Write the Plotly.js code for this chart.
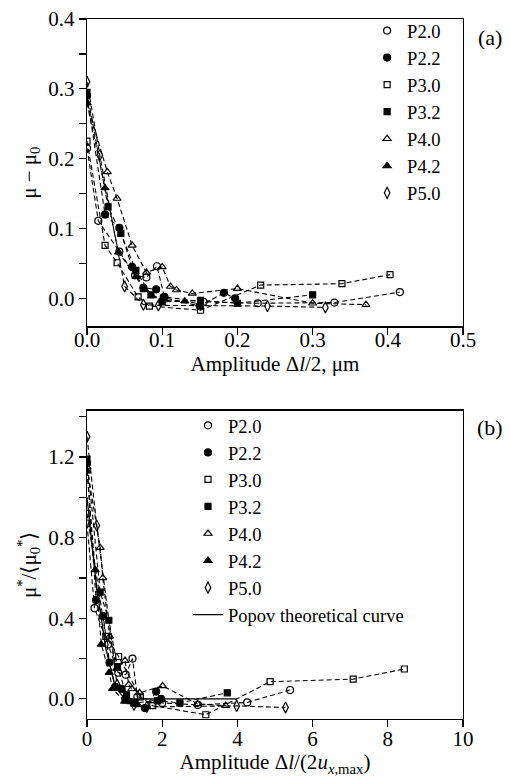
<!DOCTYPE html>
<html><head><meta charset="utf-8">
<script src="https://cdn.plot.ly/plotly-3.0.1.min.js"></script>
<style>html,body{margin:0;padding:0;background:#fff}</style>
</head><body><div id="chart" style="width:510px;height:782px"></div>
<script>
// Panel (a): mu - mu0 vs amplitude (um)
const seriesNames = ['P2.0','P2.2','P3.0','P3.2','P4.0','P4.2','P5.0'];
const a_P20_x = [0, 0.015, 0.043, 0.064, 0.079, 0.093, 0.103, 0.155, 0.227, 0.329, 0.416];
const a_P20_y = [0.215, 0.111, 0.067, 0.033, 0.030, 0.046, 0.002, -0.005, -0.007, -0.006, 0.009];
const a_P22_x = [0, 0.024, 0.043, 0.060, 0.075, 0.092, 0.102, 0.150, 0.182, 0.197];
const a_P22_y = [0.290, 0.120, 0.101, 0.045, 0.015, 0.013, 0.001, -0.011, 0.008, 0.000];
const a_P30_x = [0, 0.024, 0.040, 0.068, 0.083, 0.151, 0.231, 0.339, 0.403];
const a_P30_y = [0.225, 0.076, 0.051, 0.002, -0.011, -0.017, 0.019, 0.021, 0.034];
const a_P32_x = [0, 0.028, 0.045, 0.065, 0.085, 0.100, 0.151, 0.200, 0.300];
const a_P32_y = [0.295, 0.131, 0.093, 0.040, 0.005, -0.005, -0.003, -0.007, 0.005];
const a_P40_x = [0, 0.027, 0.040, 0.060, 0.079, 0.100, 0.111, 0.119, 0.140, 0.200, 0.300, 0.371];
const a_P40_y = [0.280, 0.181, 0.143, 0.076, 0.037, 0.045, 0.017, 0.012, 0.007, 0.014, -0.007, -0.009];
const a_P42_x = [0, 0.024, 0.042, 0.065, 0.076, 0.100, 0.130, 0.150];
const a_P42_y = [0.280, 0.158, 0.066, 0.031, 0.012, -0.003, -0.004, -0.008];
const a_P50_x = [0, 0.017, 0.050, 0.075, 0.095, 0.240, 0.317];
const a_P50_y = [0.310, 0.205, 0.017, -0.009, -0.010, -0.011, -0.013];

// Panel (b): normalized friction vs normalized amplitude
const b_P20_x = [0, 0.20, 0.56, 0.83, 1.03, 1.21, 1.34, 2.00, 2.95, 4.26, 5.40];
const b_P20_y = [0.87, 0.45, 0.27, 0.13, 0.12, 0.20, 0.01, -0.02, -0.03, -0.018, 0.044];
const b_P22_x = [0, 0.24, 0.43, 0.60, 0.75, 0.92, 1.02, 1.54, 1.84, 1.97];
const b_P22_y = [1.17, 0.49, 0.41, 0.18, 0.06, 0.05, 0.00, -0.046, 0.036, 0.00];
const b_P30_x = [0, 0.50, 0.84, 1.42, 1.75, 3.16, 4.87, 7.08, 8.44];
const b_P30_y = [0.92, 0.31, 0.21, 0.01, -0.034, -0.079, 0.085, 0.098, 0.148];
const b_P32_x = [0, 0.35, 0.58, 0.81, 1.05, 1.24, 1.87, 2.47, 3.73];
const b_P32_y = [1.19, 0.53, 0.39, 0.16, 0.02, -0.02, -0.01, -0.02, 0.03];
const b_P40_x = [0, 0.35, 0.42, 0.60, 0.79, 1.01, 1.11, 1.19, 1.40, 2.01, 2.94, 3.69];
const b_P40_y = [1.15, 0.75, 0.60, 0.31, 0.15, 0.19, 0.07, 0.05, 0.03, 0.064, -0.025, -0.034];
const b_P42_x = [0, 0.22, 0.38, 0.59, 0.68, 1.00, 1.17, 1.35];
const b_P42_y = [1.13, 0.64, 0.27, 0.13, 0.05, -0.013, -0.015, -0.03];
const b_P50_x = [0, 0.26, 0.80, 1.25, 1.59, 3.98, 5.28];
const b_P50_y = [1.30, 0.86, 0.07, -0.03, -0.04, -0.035, -0.043];
const popov_x = [0, 0.25, 0.50, 0.75, 1.00, 4.00];
const popov_y = [1.00, 0.56, 0.25, 0.06, 0.00, 0.00];

const symbols = ['circle-open','circle','square-open','square','triangle-up-open','triangle-up','diamond-tall-open'];
const sizes = [7, 7, 6, 6, 7, 7, 8];
const aX = [a_P20_x,a_P22_x,a_P30_x,a_P32_x,a_P40_x,a_P42_x,a_P50_x];
const aY = [a_P20_y,a_P22_y,a_P30_y,a_P32_y,a_P40_y,a_P42_y,a_P50_y];
const bX = [b_P20_x,b_P22_x,b_P30_x,b_P32_x,b_P40_x,b_P42_x,b_P50_x];
const bY = [b_P20_y,b_P22_y,b_P30_y,b_P32_y,b_P40_y,b_P42_y,b_P50_y];

const FONT = '"Liberation Serif", "Times New Roman", serif';
const traces = [];
function addPanel(X, Y, xa, ya, lg) {
  for (let i = 0; i < seriesNames.length; i++) {
    traces.push({
      x: X[i], y: Y[i], name: seriesNames[i], type: 'scatter', mode: 'lines',
      xaxis: xa, yaxis: ya, showlegend: false,
      line: {color: 'black', width: 1.1, dash: '5px,3px'}
    });
  }
  for (let i = 0; i < seriesNames.length; i++) {
    traces.push({
      x: X[i], y: Y[i], name: seriesNames[i], type: 'scatter', mode: 'markers',
      xaxis: xa, yaxis: ya, legend: lg,
      marker: {symbol: symbols[i], size: sizes[i], color: 'black', line: {color: 'black', width: 1.2}}
    });
  }
}
addPanel(aX, aY, 'x', 'y', 'legend');
addPanel(bX, bY, 'x2', 'y2', 'legend2');
traces.push({
  x: popov_x, y: popov_y, name: 'Popov theoretical curve', type: 'scatter', mode: 'lines',
  xaxis: 'x2', yaxis: 'y2', legend: 'legend2', line: {color: 'black', width: 1.3}
});

function ax(o) {
  const base = {
    showline: true, linecolor: 'black', linewidth: 1.3, mirror: true,
    ticks: 'outside', ticklen: 7, tickwidth: 1.3, tickcolor: 'black',
    showgrid: false, zeroline: false,
    tickfont: {family: FONT, size: 21, color: 'black'}
  };
  return Object.assign(base, o);
}
const tfont = {family: FONT, size: 21, color: 'black'};
const lfont = {family: FONT, size: 18.5, color: 'black'};

const layout = {
  width: 510, height: 782,
  margin: {l: 87, r: 47, t: 13, b: 63},
  paper_bgcolor: 'white', plot_bgcolor: 'white',
  font: {family: FONT, size: 21, color: 'black'},
  xaxis: ax({domain: [0, 1], range: [0, 0.5], dtick: 0.1, tickformat: '.1f', anchor: 'y',
    ticklabelstandoff: -13,
    title: {text: 'Amplitude Δ<i>l</i>/2, μm', standoff: 0, font: tfont}}),
  yaxis: ax({domain: [0.561, 1], range: [-0.04, 0.4], dtick: 0.1, tickformat: '.1f', anchor: 'x',
    minor: {dtick: 0.05, ticks: 'outside', ticklen: 7, tickwidth: 1.3, tickcolor: 'black'},
    title: {text: 'μ − μ<sub>0</sub>', standoff: 6, font: tfont}}),
  xaxis2: ax({domain: [0, 1], range: [0, 10], dtick: 2, anchor: 'y2',
    ticklabelstandoff: -7,
    title: {text: 'Amplitude Δ<i>l</i>/(2<i>u</i><sub><i>x</i>,max</sub>)', standoff: 0, font: tfont}}),
  yaxis2: ax({domain: [0, 0.4405], range: [-0.1, 1.43], dtick: 0.4, tickformat: '.1f', anchor: 'x2',
    minor: {dtick: 0.2, ticks: 'outside', ticklen: 7, tickwidth: 1.3, tickcolor: 'black'},
    title: {text: 'μ<sup>*</sup>/⟨μ<sub>0</sub><sup>*</sup>⟩', standoff: 6, font: tfont}}),
  legend: {x: 0.745, y: 1.01, xanchor: 'left', yanchor: 'top', bgcolor: 'rgba(0,0,0,0)',
    font: lfont, tracegroupgap: 0, itemwidth: 30},
  legend2: {x: 0.2686, y: 0.446, xanchor: 'left', yanchor: 'top', bgcolor: 'rgba(0,0,0,0)',
    font: lfont, tracegroupgap: 0, itemwidth: 30},
  showlegend: true,
  annotations: [
    {text: '(a)', xref: 'paper', yref: 'paper', x: 1.072, y: 0.995, xanchor: 'center', yanchor: 'top',
      showarrow: false, font: {family: FONT, size: 22, color: 'black'}},
    {text: '(b)', xref: 'paper', yref: 'paper', x: 1.072, y: 0.437, xanchor: 'center', yanchor: 'top',
      showarrow: false, font: {family: FONT, size: 22, color: 'black'}}
  ]
};
Plotly.newPlot('chart', traces, layout, {displayModeBar: false, staticPlot: true});
</script></body></html>
